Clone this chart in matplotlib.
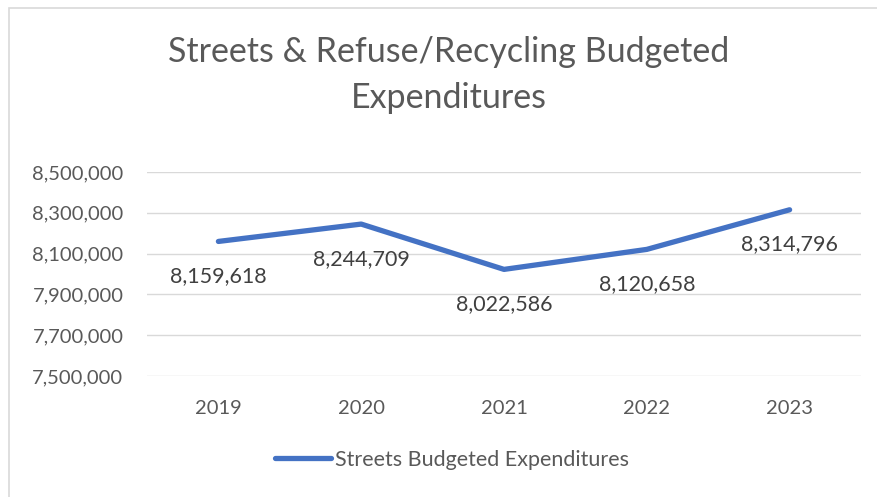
import matplotlib.pyplot as plt
from matplotlib.ticker import FuncFormatter
from matplotlib.patches import Rectangle

plt.rcParams['font.family'] = ['Lato', 'DejaVu Sans']

years = ['2019', '2020', '2021', '2022', '2023']
expenditures = [8159618, 8244709, 8022586, 8120658, 8314796]
y_ticks = [7500000, 7700000, 7900000, 8100000, 8300000, 8500000]

text_color = '#595959'
line_color = '#4472C4'

fig = plt.figure(figsize=(8.78, 4.97), dpi=100)
ax = fig.add_axes([147 / 878, 1 - 376 / 497, (861 - 147) / 878, (376 - 172) / 497])

x = list(range(len(years)))
line, = ax.plot(x, expenditures, color=line_color, linewidth=3.8,
                solid_capstyle='round', solid_joinstyle='round',
                label='Streets Budgeted Expenditures')

for xi, v in zip(x, expenditures):
    ax.annotate(f'{v:,}', (xi, v), xytext=(0, -25), textcoords='offset points',
                ha='center', va='center', fontsize=15.5, color='#404040')

ax.set_xlim(-0.5, len(years) - 0.5)
ax.set_ylim(7500000, 8500000)
ax.set_xticks(x)
ax.set_xticklabels(years)
ax.set_yticks(y_ticks)
ax.yaxis.set_major_formatter(FuncFormatter(lambda v, p: f'{int(v):,}'))
ax.tick_params(axis='both', length=0, labelsize=14.5, labelcolor=text_color)
ax.tick_params(axis='y', pad=17)
ax.tick_params(axis='x', pad=17)
ax.grid(axis='y', color='#D9D9D9', linewidth=1)
ax.set_axisbelow(True)
for s in ax.spines.values():
    s.set_visible(False)

title_x = 449 / 878
fig.text(title_x, 1 - 52 / 497, 'Streets & Refuse/Recycling Budgeted', ha='center',
         va='center', fontsize=24.5, color=text_color)
fig.text(title_x, 1 - 98 / 497, 'Expenditures', ha='center', va='center',
         fontsize=24.5, color=text_color)

fig.legend(handles=[line], loc='center', bbox_to_anchor=(452 / 878, 1 - 460 / 497),
           frameon=False, fontsize=15.5, labelcolor=text_color,
           handlelength=2.6, handletextpad=0.15)

# outer chart border
fig.patches.append(Rectangle((9 / 878, -0.02), 1.1, 1 - 8 / 497 + 0.02,
                             transform=fig.transFigure, fill=False,
                             edgecolor='#D9D9D9', linewidth=1.2))

fig.savefig('out.png', dpi=100)
